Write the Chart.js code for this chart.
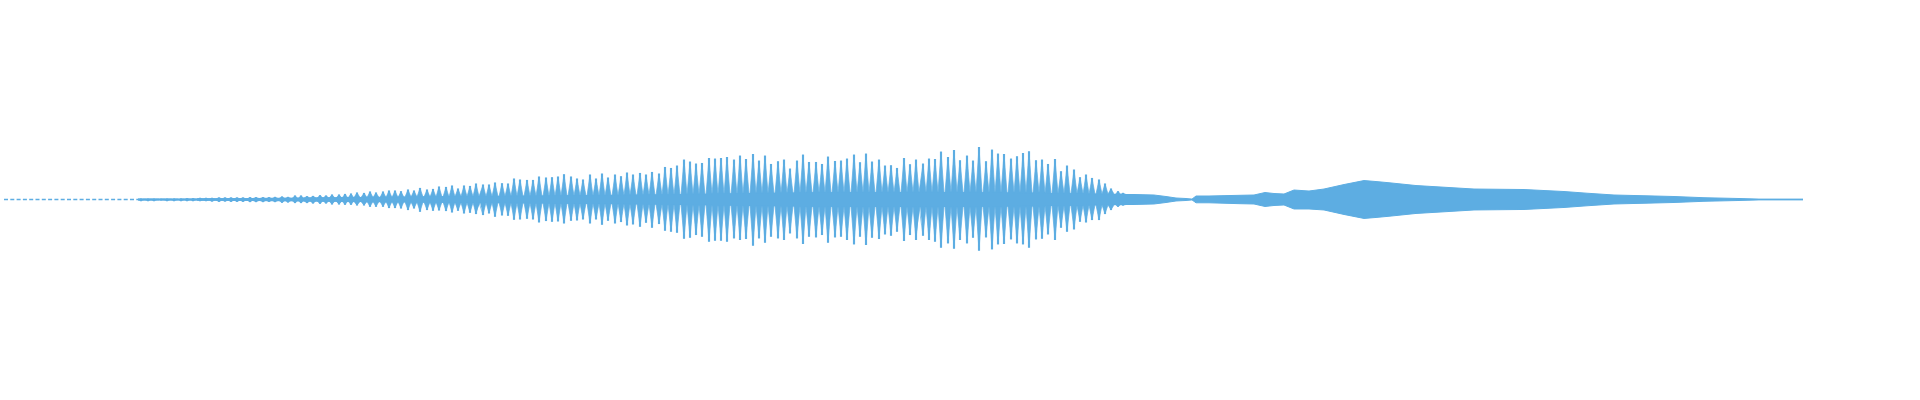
<!DOCTYPE html>
<html lang="en">
<head>
    <meta charset="UTF-8">
    <title>Waveform</title>
    <script src="https://cdn.jsdelivr.net/npm/chart.js"></script>
    <style>
        html, body { margin: 0; padding: 0; background: #fff; }
        .wrap { width: 1920px; height: 400px; position: relative; }
    </style>
</head>
<body>
<div class="wrap"><canvas id="waveChart"></canvas></div>
<script>
    // time in ms, amplitude in sample units (full scale = 200)
    const spikeTimes = [
        137, 144, 150, 157, 163, 170, 177, 183, 189, 196, 202, 208, 215, 221, 227, 233, 239, 246, 252, 259, 265, 271, 278, 284, 291,
        297, 303, 309, 316, 322, 328, 335, 341, 347, 353, 360, 366, 372, 379, 385, 391, 397, 404, 410, 416, 423, 429, 435, 442, 448, 454, 460,
        466, 472, 479, 485, 491, 498, 504, 510, 516, 523, 529, 535, 542, 548, 554, 560, 567, 573, 579, 586, 592, 598, 604, 611, 617, 623,
        629, 636, 642, 648, 655, 661, 667, 673, 680, 686, 692, 698, 705, 711, 717, 723, 730, 736, 742, 749, 755, 761, 767, 774, 780, 786,
        793, 799, 805, 812, 818, 824, 831, 837, 843, 850, 856, 862, 868, 875, 881, 887, 893, 900, 906, 912, 919, 925, 931, 937, 944, 950, 956,
        963, 969, 975, 982, 988, 994, 1000, 1007, 1013, 1019, 1025, 1032, 1038, 1044, 1051, 1057, 1063, 1070, 1076, 1082, 1088, 1095, 1101, 1107, 1114, 1119
    ];
    const spikeUp = [
        0.7, 0.7, 0.7, 0.5, 0.7, 0.7, 0.7, 1, 1, 1.3, 1.3, 1.3, 1.7, 1.7, 1.7, 1.7, 1.7, 2, 2, 2, 2, 2.3, 2.7, 2.3, 3.7,
        3.7, 3, 3.3, 4, 3.7, 4.7, 4.7, 5.3, 5.7, 6.7, 6.3, 7.7, 6.7, 7.7, 8.7, 8.7, 8, 9.7, 8.7, 11.3, 9.7, 10.3, 12.7, 12.3, 13.7, 10.7, 13.7,
        13.3, 15.7, 14.7, 14.7, 16.7, 16, 15.7, 20.7, 19.7, 19.3, 19.3, 22.7, 21.7, 22, 22.7, 25, 22.7, 20.7, 19.7, 24.7, 20.7, 25.7, 21.7, 24.7, 23, 26.7,
        24.7, 26.3, 24.7, 27.3, 25.7, 32.3, 31.3, 33.7, 39.7, 37.7, 35.7, 36.3, 41.3, 40.7, 41.3, 42.3, 39.7, 43.7, 40.3, 45.3, 38.7, 43.7, 35.3, 38, 39.7, 30.7,
        38.7, 44.7, 37.3, 37.3, 35.3, 42.7, 38.3, 38.7, 40.7, 44.7, 37, 45.7, 37.7, 39.7, 33.7, 34, 31.3, 41.3, 35, 39.7, 35.7, 40.7, 40.3, 47.7, 42.3, 49.3, 39,
        43.7, 38.7, 52.3, 38, 49.7, 45.7, 45.3, 40.7, 43, 46.3, 48, 39, 39.7, 35.3, 40.3, 28, 33.7, 29.7, 22, 24.7, 21.3, 19.7, 15.7, 10.7, 8, 6.3
    ];
    const spikeDown = [
        1.3, 1.3, 1.3, 0.7, 1.3, 1.3, 1.3, 1.3, 1.3, 1.3, 1.3, 1.7, 2, 1.7, 2, 2, 2, 2.3, 2.3, 2.3, 2, 2.3, 3, 2.7, 3.3,
        3.3, 3.3, 3.7, 4, 3.7, 4.7, 4.7, 5, 5, 5.7, 5.7, 7, 7, 7, 8.3, 8.3, 8.7, 10.3, 8.7, 12, 10.3, 11, 10.7, 11.3, 12.7, 11, 13.7,
        13, 14.3, 15.3, 13.7, 17, 15.7, 16, 20, 19.7, 19, 19.7, 22.7, 21.3, 22, 21.7, 23.7, 21, 20.7, 19.7, 23.7, 19.7, 25, 21, 23.7, 22.3, 25.7,
        24.7, 27, 23, 28, 24.3, 31, 32, 33, 39, 38, 35.3, 37, 42, 41, 41, 42, 38.7, 40.3, 39.3, 46, 38.7, 43, 37, 38.7, 40.3, 33.7,
        38.7, 44.3, 37, 37.7, 35.3, 43, 37.7, 37, 40.3, 44.7, 37, 45.3, 38, 39.3, 34.7, 36, 32, 41.3, 35.3, 40.3, 36, 40.3, 42, 48, 43.7, 49, 40.3,
        43.7, 38, 51, 37.7, 49.7, 44.7, 44.3, 39.7, 43.7, 44.7, 48, 39.7, 39, 34.7, 40.3, 28, 32, 29.7, 22, 22.7, 20.3, 20.3, 14.3, 10.3, 7, 5.7
    ];

    // steady band under the spikes and the tail
    const bandTimes = [193, 250, 300, 350, 400, 450, 500, 560, 620, 680, 740, 800, 900, 980, 1040, 1080, 1110, 1130, 1150, 1162, 1172, 1182, 1188, 1192, 1205, 1236, 1250, 1261, 1270, 1280, 1290, 1305, 1320, 1340, 1360, 1372, 1385, 1412, 1437, 1470, 1520, 1560, 1583, 1610, 1642, 1670, 1700, 1735, 1755, 1799];
    const bandUp =    [0.7, 1, 1.5, 2, 2.5, 3, 3.3, 3.7, 4.3, 5, 6, 6.7, 7, 6.7, 6, 5.5, 5, 5, 4.5, 3, 1.5, 1, 0.4, 3.5, 3.5, 4.2, 4.5, 7, 6, 5.5, 9.5, 8.5, 10.5, 15, 19, 18, 16.8, 14, 12.5, 10.5, 10, 8, 6.3, 4.5, 3.7, 3, 1.8, 1, 0.4, 0.4];
    const bandDown =  [0.7, 1, 1.5, 2, 2.5, 3, 3.3, 3.7, 4.3, 5, 6, 6.7, 7, 6.7, 6, 5.5, 5, 5, 4.5, 3, 1.5, 1, 0.4, 3.3, 3.3, 4.2, 4.5, 7, 6, 5.5, 9.5, 9.5, 10.5, 15, 19, 18, 16.8, 14, 12.5, 10.5, 10, 8, 6.3, 4.5, 3.7, 3, 1.8, 1, 0.4, 0.4];

    // quiet lead-in before the band starts
    const leadTimes = [0, 193];

    const waveColor = '#5dade2';
    const spikeHalfWidth = 3;

    // band level in force at time t (last band point at or before t)
    function bandAt(arr, t) {
        let v = arr[0];
        for (let i = 0; i < bandTimes.length && bandTimes[i] <= t; i++) v = arr[i];
        return v;
    }

    function spikeOutline(sign, amps, band) {
        const pts = [];
        spikeTimes.forEach((t, i) => {
            const b = bandAt(band, t);
            pts.push({ x: t - spikeHalfWidth, y: sign * b });
            pts.push({ x: t, y: sign * Math.max(amps[i], b) });
            pts.push({ x: t + spikeHalfWidth, y: sign * b });
        });
        return pts;
    }

    function initChart() {
        const lineBase = { type: 'line', borderColor: waveColor, backgroundColor: waveColor, pointRadius: 0 };
        new Chart(document.getElementById('waveChart').getContext('2d'), {
            type: 'bar',
            data: {
                datasets: [
                    { ...lineBase, data: bandTimes.map((t, i) => ({ x: t, y: bandUp[i] })), borderWidth: 1, fill: '+1' },
                    { ...lineBase, data: bandTimes.map((t, i) => ({ x: t, y: -bandDown[i] })), borderWidth: 1, fill: false },
                    { ...lineBase, data: spikeOutline(1, spikeUp, bandUp), borderWidth: 0.7, fill: '+1' },
                    { ...lineBase, data: spikeOutline(-1, spikeDown, bandDown), borderWidth: 0.7, fill: false },
                    { ...lineBase, data: leadTimes.map(t => ({ x: t, y: 0 })), borderWidth: 1.5, borderDash: [4, 2.3], fill: false },
                    {
                        type: 'bar',
                        data: spikeTimes.map((t, i) => ({ x: t, y: [-spikeDown[i], spikeUp[i]] })),
                        backgroundColor: waveColor,
                        borderWidth: 0,
                        barThickness: 1.5,
                        grouped: false
                    }
                ]
            },
            options: {
                responsive: true,
                maintainAspectRatio: false,
                animation: false,
                devicePixelRatio: 1,
                layout: { padding: { left: 4, right: 116, top: 0, bottom: 1 } },
                plugins: { legend: { display: false }, tooltip: { enabled: false }, title: { display: false } },
                scales: {
                    x: { type: 'linear', min: 0, max: 1800, offset: false, display: false },
                    y: { min: -200, max: 200, display: false }
                }
            }
        });
    }

    document.addEventListener('DOMContentLoaded', initChart);
</script>
</body>
</html>
